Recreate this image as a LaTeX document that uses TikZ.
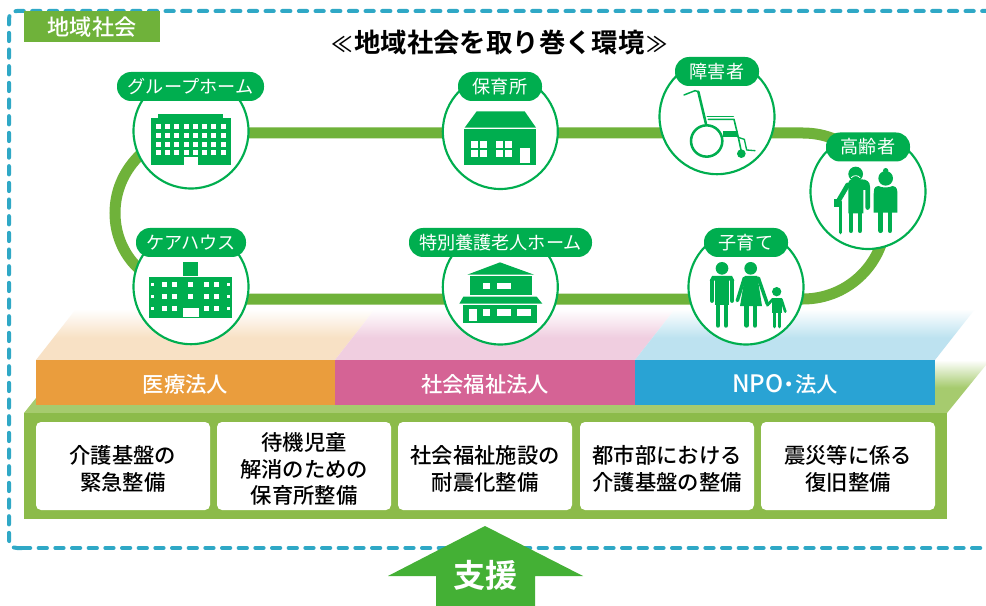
\documentclass[tikz,border=0pt]{standalone}
\usepackage{fontspec}
\setmainfont{Noto Sans CJK JP}
\newfontfamily\jpb{Noto Sans CJK JP Medium}
\newfontfamily\jpbb{Noto Sans CJK JP Bold}
\definecolor{grn}{HTML}{00AE4F}
\definecolor{trk}{HTML}{6FB23A}
\definecolor{frameblue}{HTML}{2FA8C6}
\definecolor{frontg}{HTML}{8CBB4A}
\definecolor{topg}{HTML}{A6CB6E}
\definecolor{orb}{HTML}{EA9D3D}
\definecolor{pkb}{HTML}{D56395}
\definecolor{blb}{HTML}{29A3D4}
\definecolor{orf}{HTML}{F8E1C5}
\definecolor{pkf}{HTML}{F0CEE0}
\definecolor{blf}{HTML}{BDE2F0}
\definecolor{arrg}{HTML}{44B035}
\pgfdeclareverticalshading{fadeor}{100bp}{color(0bp)=(orf); color(47bp)=(orf); color(75bp)=(white); color(100bp)=(white)}
\pgfdeclareverticalshading{fadepk}{100bp}{color(0bp)=(pkf); color(47bp)=(pkf); color(75bp)=(white); color(100bp)=(white)}
\pgfdeclareverticalshading{fadebl}{100bp}{color(0bp)=(blf); color(47bp)=(blf); color(75bp)=(white); color(100bp)=(white)}
\pgfdeclareverticalshading{fadegr}{100bp}{color(0bp)=(topg); color(49bp)=(topg); color(75bp)=(white); color(100bp)=(white)}
\pgfdeclarelayer{backlayer}
\pgfdeclarelayer{tracklayer}
\pgfsetlayers{backlayer,tracklayer,main}
\def\u{0.75pt}
\tikzset{
  ring/.style={circle,draw=grn,line width=1.6pt,fill=white,minimum size=115*\u,inner sep=0pt},
  pill/.style={rounded corners=14*\u,fill=grn,text=white,minimum height=29*\u,inner sep=0pt,text height=10.4pt,text depth=0pt,font=\fontsize{13.6}{15}\selectfont},
  track/.style={draw=trk,line width=8.25pt},
  band/.style={minimum height=45*\u,minimum width=300*\u,inner sep=0pt,text=white,text height=14.6pt,text depth=0pt,font=\jpb\fontsize{16}{18}\selectfont},
  taskbox/.style={fill=white,rounded corners=5*\u,minimum width=174*\u,minimum height=88*\u,inner sep=0pt},
  tasktext/.style={inner sep=0pt,align=center,font=\jpb\fontsize{16}{20}\selectfont},
  ic/.style={fill=grn,draw=none},
  wl/.style={fill=white,draw=none},
  lm/.style={draw=grn,line cap=round,line join=round},
  framedash/.style={draw=frameblue,line width=3pt,line cap=round,dash pattern=on 6.2pt off 6.3pt}
}
\begin{document}
\begin{tikzpicture}[x=0.75pt,y=-0.75pt]
\useasboundingbox (0,0) rectangle (986,606);
\begin{pgfonlayer}{backlayer}
\fill[white] (0,0) rectangle (986,606);
\draw[framedash] (22,548) -- (17,548) .. controls (12,548) and (9,545) .. (9,540) -- (9,19) .. controls (9,14) and (12,11) .. (17,11) -- (995,11);
\draw[framedash] (22,548) -- (995,548);
\path[shading=fadegr] (24,413) -- (36,398) -- (36,360) -- (990,360) -- (947,413) -- cycle;
\path[shading=fadeor] (36,360) -- (76,309) -- (375,309) -- (335,360) -- cycle;
\path[shading=fadepk] (335,360) -- (375,309) -- (675,309) -- (635,360) -- cycle;
\path[shading=fadebl] (635,360) -- (675,309) -- (975,309) -- (935,360) -- cycle;
\fill[frontg] (24,413) rectangle (947,519);
\end{pgfonlayer}
% bands
\node[band,fill=orb] (iryo) at (185.5,382.5) {医療法人};
\node[band,fill=pkb] (shafuku) at (485,382.5) {社会福祉法人};
\node[band,fill=blb] (npo) at (785,382.5) {{\fontsize{18}{18}\selectfont NPO}\hspace{-.22em}・\hspace{-.22em}法人};
% task boxes
\node[taskbox] (b1) at (123,466) {};
\node[taskbox] (b2) at (304,466) {};
\node[taskbox] (b3) at (485,466) {};
\node[taskbox] (b4) at (667,466) {};
\node[taskbox] (b5) at (848,466) {};
\node[tasktext] (t1) at (123,469) {介護基盤の\\緊急整備};
\node[tasktext] (t2) at (304,469) {待機児童\\解消のための\\保育所整備};
\node[tasktext] (t3) at (485,469) {社会福祉施設の\\耐震化整備};
\node[tasktext] (t4) at (667,469) {都市部における\\介護基盤の整備};
\node[tasktext] (t5) at (848,469) {震災等に係る\\復旧整備};
% tab and title
\node[fill=trk,minimum width=136*\u,minimum height=31*\u,inner sep=0pt,text=white,text height=13pt,text depth=0pt,font=\jpb\fontsize{16.6}{18}\selectfont] (tab) at (92,26.5) {地域社会};
\node[font=\jpbb\fontsize{19.8}{22}\selectfont,inner sep=0pt,text height=15pt,text depth=0pt] (title) at (499.5,42.5) {{\jpb\fontsize{16}{22}\selectfont ≪}\hspace{1pt}地域社会を取り巻く環境\hspace{1pt}{\jpb\fontsize{16}{22}\selectfont ≫}};
% rings
\node[ring] (grp) at (191,131) {};
\node[ring] (kea) at (191,286.7) {};
\node[ring] (hoi) at (500.3,131.5) {};
\node[ring] (tok) at (500.3,287) {};
\node[ring] (sho) at (717,116.7) {};
\node[ring] (kou) at (868,191.5) {};
\node[ring] (kos) at (746,287) {};
% track
\coordinate (la) at (191,133);
\coordinate (lm) at (115,213);
\coordinate (lb) at (191,299);
\coordinate (ra) at (803,133);
\coordinate (rm) at (886,216);
\coordinate (rb) at (803,299);
\begin{pgfonlayer}{tracklayer}
\draw[track] (la) -- (hoi.center |- la) -- (ra) .. controls (849,133) and (886,170) .. (rm) .. controls (886,262) and (849,299) .. (rb) -- (tok.center |- lb) -- (kea.center |- lb);
\draw[track] (grp.center) .. controls (149,136) and (115,170) .. (lm) .. controls (115,256) and (149,290) .. (kea.center);
\end{pgfonlayer}
\node[pill,minimum width=147*\u] (pgrp) at (190.5,86.5) {グループホーム};
\node[pill,minimum width=110*\u] (pkea) at (191,242.5) {ケアハウス};
\node[pill,minimum width=84*\u] (phoi) at (500,86.5) {保育所};
\node[pill,minimum width=183*\u] (ptok) at (500.5,242.5) {特別養護老人ホーム};
\node[pill,minimum width=84*\u] (psho) at (717,71.5) {障害者};
\node[pill,minimum width=84*\u] (pkou) at (868,147) {高齢者};
\node[pill,minimum width=84*\u] (pkos) at (746,242.5) {子育て};
% icon: group home
\begin{scope}[shift={(100,60)},x=0.25pt,y=-0.25pt]
\fill[ic] (174,162) rectangle (369,173);
\fill[ic] (153,173) rectangle (393,315);
\fill[wl] (252,291) rectangle (294,316);
\foreach \wy in {192,219,246,270}{\foreach \wx in {168,195,222,252,279,306,333,363}{\fill[wl] (\wx,\wy) rectangle ++(15,14);}}
% care house
\fill[ic] (249,606) rectangle (294,648);
\fill[ic] (147,651) rectangle (397,773);
\foreach \wy in {667,703,739}{
 \foreach \wx in {186,217,312,343}{\fill[wl] (\wx,\wy) rectangle ++(15,15);}
 \fill[wl] (153,\wy+2) rectangle ++(9,9);
 \fill[wl] (381,\wy+2) rectangle ++(9,9);}
\foreach \wy in {667,703}{\fill[wl] (264,\wy) rectangle ++(15,15);}
\fill[wl] (249,745) rectangle (296,771);
\end{scope}
% nursery
\begin{scope}[shift={(400,50)},x=0.25pt,y=-0.25pt]
\fill[ic] (230,184) -- (374,184) -- (408,233) -- (194,233) -- cycle;
\fill[ic] (192,237) rectangle (408,344);
\foreach \wx in {213,288}{
 \fill[wl] (\wx,273) rectangle ++(22,21);
 \fill[wl] (\wx+27,273) rectangle ++(21,21);
 \fill[wl] (\wx,300) rectangle ++(22,21);
 \fill[wl] (\wx+27,300) rectangle ++(21,21);}
\fill[wl] (360,294) rectangle (390,340);
% nursing home
\fill[ic] (300,637) -- (402,674) -- (202,674) -- cycle;
\fill[ic] (211,679) rectangle (396,736);
\fill[wl] (250,698) rectangle (271,717);
\fill[wl] (291,698) rectangle (332,717);
\fill[ic] (190,740) -- (410,740) -- (427,761) -- (178,761) -- cycle;
\fill[ic] (190,765) rectangle (411,818);
\fill[wl] (208,778) rectangle (231,814);
\fill[wl] (250,778) rectangle (271,799);
\fill[wl] (291,778) rectangle (332,799);
\fill[wl] (352,778) rectangle (394,799);
\end{scope}
% wheelchair, elders, family
\begin{scope}[shift={(680,50)},x=0.25pt,y=-0.25pt]
\draw[lm,line width=1.9pt] (80,273) circle[radius=47];
\fill[ic] (184,311) circle[radius=13];
\draw[lm,line width=1.1pt] (12,135) -- (45,122) -- (55,125);
\draw[lm,line width=1.9pt] (55,125) -- (78,222);
\draw[lm,line width=1.2pt] (82,199) -- (160,199);
\draw[lm,line width=1.2pt] (85,208) -- (162,208) -- (175,262);
\fill[ic] (128,243) rectangle (175,262);
\draw[lm,line width=1pt] (175,262) -- (193,268) -- (200,300) -- (225,302);
\draw[lm,line width=1.2pt] (175,262) -- (184,305);
% man with cane
\fill[ic] (527,372) circle[radius=22];
\draw[white,line width=.6pt,line cap=round] (514,383) .. controls (520,375) and (534,375) .. (540,383);
\fill[ic] (505,398) .. controls (505,390) and (512,388) .. (520,388) -- (545,388) .. controls (560,388) and (570,395) .. (570,410) -- (570,472) .. controls (570,482) and (556,482) .. (556,472) -- (556,420) -- (550,420) -- (550,490) -- (505,490) -- cycle;
\draw[lm,line width=3.6pt] (503,405) -- (471,460);
\draw[lm,line width=3.6pt] (513,485) -- (513,542);
\draw[lm,line width=3.6pt] (540,485) -- (540,542);
\draw[lm,line width=2.4pt] (481,455) -- (481,548);
\fill[ic] (463,447) rectangle (484,472);
% woman
\fill[ic] (617,362) circle[radius=8];
\fill[ic] (617,385) circle[radius=22];
\fill[ic] (595,408) .. controls (580,410) and (582,420) .. (581,435) -- (581,488) -- (652,488) -- (652,435) .. controls (652,420) and (652,410) .. (638,408) .. controls (625,414) and (607,414) .. (595,408) -- cycle;
\draw[lm,line width=3.6pt] (602,485) -- (602,542);
\draw[lm,line width=3.6pt] (630,485) -- (630,542);
% family man
\fill[ic] (126,655) circle[radius=19];
\fill[ic] (104,680) -- (148,680) -- (148,765) -- (104,765) -- cycle;
\draw[lm,line width=3.4pt] (96,692) -- (96,752);
\draw[lm,line width=3.4pt] (156,692) -- (156,752);
\fill[ic] (96,678) -- (156,678) -- (163,692) -- (89,692) -- cycle;
\draw[lm,line width=3.6pt] (114,760) -- (114,826);
\draw[lm,line width=3.6pt] (138,760) -- (138,826);
% family woman
\fill[ic] (212,655) circle[radius=19];
\fill[ic] (195,678) -- (232,678) -- (246,768) -- (180,768) -- cycle;
\draw[lm,line width=2.6pt] (193,684) -- (172,752);
\draw[lm,line width=2.6pt] (235,684) -- (262,762);
\draw[lm,line width=3.6pt] (200,765) -- (200,826);
\draw[lm,line width=3.6pt] (225,765) -- (225,826);
% child
\fill[ic] (290,725) circle[radius=14];
\fill[ic] (276,743) rectangle (305,790);
\draw[lm,line width=2pt] (278,748) -- (262,766);
\draw[lm,line width=2pt] (304,748) -- (316,785);
\draw[lm,line width=2.6pt] (283,788) -- (283,830);
\draw[lm,line width=2.6pt] (298,788) -- (298,830);
\end{scope}
% support arrow
\fill[arrg] (485,526) -- (583,576) -- (535,576) -- (535,606) -- (436,606) -- (436,576) -- (388,576) -- cycle;
\node[text=white,font=\jpbb\fontsize{24}{26}\selectfont,inner sep=0pt,text height=18.2pt,text depth=0pt] (shien) at (485.5,575) {支援};
\end{tikzpicture}
\end{document}
